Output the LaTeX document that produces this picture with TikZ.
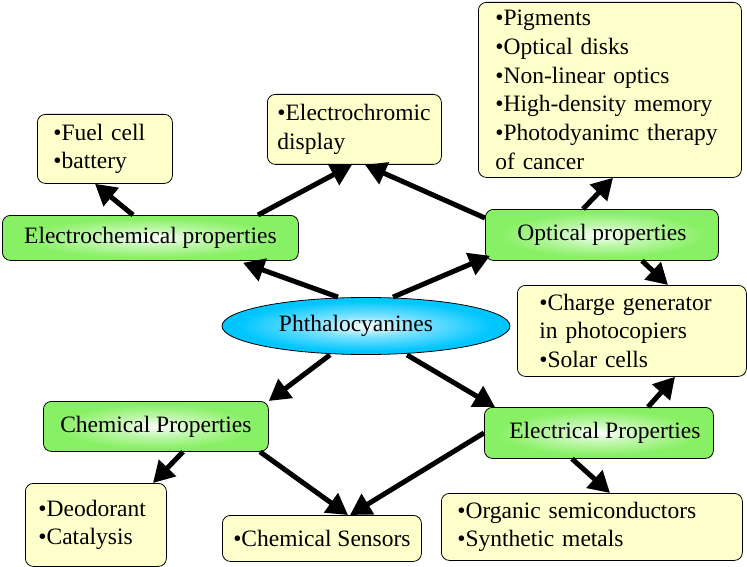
\documentclass[tikz,border=0pt]{standalone}
\usepackage{fontspec}
\setmainfont{Liberation Serif}
\usetikzlibrary{shapes.geometric,arrows.meta}
\hyphenpenalty=10000 \exhyphenpenalty=10000
\definecolor{ybg}{RGB}{255,255,204}
\definecolor{gbg}{RGB}{136,240,100}
\definecolor{cbg}{RGB}{0,198,255}
\pgfdeclareradialshading{greenglow}{\pgfpoint{0bp}{0bp}}{color(0bp)=(white); color(9bp)=(white!50!gbg); color(22bp)=(gbg); color(50bp)=(gbg)}
\pgfdeclareradialshading{cyanglow}{\pgfpoint{0bp}{0bp}}{color(0bp)=(white); color(9bp)=(white!50!cbg); color(22bp)=(cbg); color(50bp)=(cbg)}
\begin{document}
\begin{tikzpicture}[x=1pt,y=-1pt,
  every node/.style={font=\fontsize{23.5}{28.8}\selectfont},
  box/.style={draw, rounded corners=8pt, anchor=north west, align=left, inner ysep=0pt, line width=0.8pt},
  ybox/.style={box, fill=ybg},
  gbox/.style={box, align=center, inner xsep=0pt, shade, shading=greenglow},
  conn/.style={line width=5pt, -{Triangle[length=21pt,width=23pt]}}]
\useasboundingbox (0,0) rectangle (747,567);
% yellow boxes
\node[ybox, inner xsep=16pt, text width=103pt, minimum height=69pt] (fuel) at (37,114) {•Fuel cell\\•battery};
\node[ybox, inner xsep=10pt, text width=154pt, minimum height=70pt] (echromic) at (267,94) {•Electrochromic\\display};
\node[ybox, inner xsep=17pt, text width=229pt, minimum height=175pt] (pig) at (478,2) {•Pigments\\•Optical disks\\•Non-linear optics\\•High-density memory\\•Photodyanimc therapy\\of cancer};
\node[ybox, inner xsep=22pt, text width=185pt, minimum height=91pt] (charge) at (517,285) {•Charge generator\\in photocopiers\\•Solar cells};
\node[ybox, inner xsep=16pt, text width=269pt, minimum height=67pt] (organic) at (441,493) {•Organic semiconductors\\•Synthetic metals};
\node[ybox, align=center, inner xsep=0pt, minimum width=199pt, minimum height=46pt] (sensors) at (222,515) {•Chemical Sensors};
\node[ybox, inner xsep=13pt, text width=115pt, minimum height=83pt] (deo) at (25,483) {•Deodorant\\•Catalysis};
% green boxes
\node[gbox, minimum width=296pt, minimum height=45pt] (echem) at (2,215) {Electrochemical properties};
\node[gbox, minimum width=233pt, minimum height=51pt] (optical) at (485,209) {Optical properties};
\node[gbox, minimum width=225pt, minimum height=50pt] (chem) at (43,401) {Chemical Properties};
\node[gbox, minimum width=229pt, minimum height=51pt] (elec) at (484,407) {\hspace*{12pt}Electrical Properties};
% centre
\node[ellipse, draw, line width=0.8pt, shade, shading=cyanglow, minimum width=288pt, minimum height=57pt, inner sep=0pt] (phth) at (366,326) {\hspace*{-20pt}Phthalocyanines};
% connectors
\draw[conn] ([xshift=131pt]echem.north west) -- ([xshift=58pt]fuel.south west);
\draw[conn] ([xshift=256pt]echem.north west) -- ([xshift=85pt]echromic.south west);
\draw[conn] ([yshift=-9pt]optical.north west) -- ([xshift=98pt]echromic.south west);
\draw[conn] ([xshift=-28pt]phth.north) -- ([xshift=241pt,yshift=-2pt]echem.south west);
\draw[conn] ([xshift=27pt]phth.north) -- ([xshift=5pt,yshift=5pt]optical.south west);
\draw[conn] ([xshift=98pt]optical.north west) -- ([xshift=135pt]pig.south west);
\draw[conn] ([xshift=157pt]optical.south west) -- ([xshift=151pt]charge.north west);
\draw[conn] ([xshift=164pt]elec.north west) -- ([xshift=158pt]charge.south west);
\draw[conn] ([xshift=88pt]elec.south west) -- ([xshift=169pt]organic.north west);
\draw[conn] (elec.west) -- ([xshift=128pt]sensors.north west);
\draw[conn] ([xshift=217pt]chem.south west) -- ([xshift=126pt]sensors.north west);
\draw[conn] ([xshift=140pt]chem.south west) -- ([xshift=128pt]deo.north west);
\draw[conn] ([xshift=-36pt]phth.south) -- (chem.north east);
\draw[conn] ([xshift=41pt]phth.south) -- ([xshift=11pt]elec.north west);
\end{tikzpicture}
\end{document}
